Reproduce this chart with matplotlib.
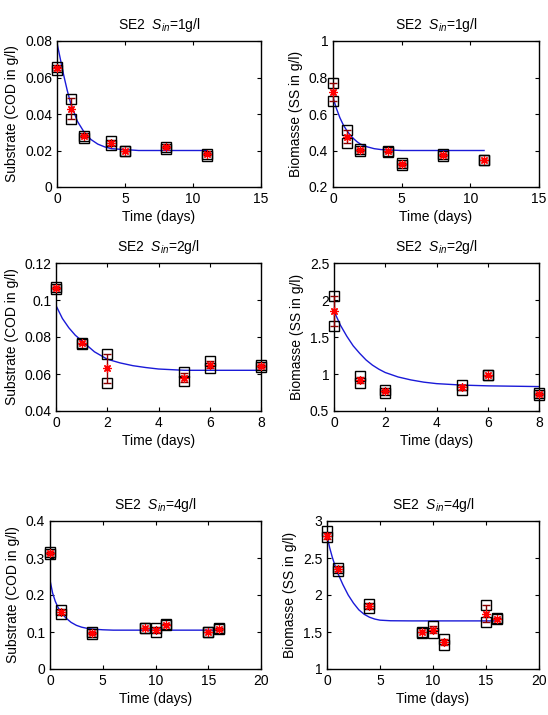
import matplotlib
matplotlib.use("Agg")
import matplotlib.pyplot as plt

plt.rcParams['font.family'] = ['Liberation Sans', 'DejaVu Sans']
plt.rcParams['mathtext.fontset'] = 'custom'
plt.rcParams['mathtext.rm'] = 'Liberation Sans'
plt.rcParams['mathtext.it'] = 'Liberation Sans:italic'
plt.rcParams['font.size'] = 10

# ---- Sin = 1 g/l ----
t1 = [0, 1, 2, 4, 5, 8, 11]
s1_a = [0.064, 0.048, 0.028, 0.025, 0.020, 0.022, 0.018]
s1_b = [0.066, 0.037, 0.027, 0.023, 0.020, 0.021, 0.017]
s1_mean = [0.065, 0.043, 0.028, 0.024, 0.020, 0.022, 0.018]
s1_fit_t = [0, 0.25, 0.5, 0.75, 1, 1.25, 1.5, 1.75, 2, 2.5, 3, 3.5, 4, 5, 6, 8, 11]
s1_fit = [0.079, 0.070, 0.061, 0.053, 0.046, 0.041, 0.036, 0.033, 0.030, 0.026, 0.0235, 0.022, 0.021, 0.0205, 0.020, 0.020, 0.020]

x1_a = [0.77, 0.51, 0.41, 0.40, 0.33, 0.38, 0.35]
x1_b = [0.67, 0.44, 0.40, 0.39, 0.32, 0.37, 0.35]
x1_mean = [0.72, 0.475, 0.405, 0.395, 0.325, 0.375, 0.35]
x1_fit_t = [0, 0.25, 0.5, 0.75, 1, 1.25, 1.5, 1.75, 2, 2.5, 3, 3.5, 4, 5, 6, 8, 11]
x1_fit = [0.69, 0.63, 0.58, 0.54, 0.51, 0.485, 0.465, 0.448, 0.435, 0.42, 0.41, 0.405, 0.403, 0.40, 0.40, 0.40, 0.40]

# ---- Sin = 2 g/l ----
t2 = [0, 1, 2, 5, 6, 8]
s2_a = [0.107, 0.077, 0.071, 0.061, 0.067, 0.065]
s2_b = [0.106, 0.076, 0.055, 0.056, 0.063, 0.064]
s2_mean = [0.1065, 0.0765, 0.063, 0.058, 0.065, 0.0645]
s2_fit_t = [0, 0.25, 0.5, 0.75, 1, 1.25, 1.5, 1.75, 2, 2.5, 3, 3.5, 4, 5, 6, 8]
s2_fit = [0.097, 0.090, 0.085, 0.081, 0.078, 0.075, 0.072, 0.070, 0.068, 0.066, 0.0645, 0.0635, 0.0627, 0.062, 0.062, 0.062]

x2_a = [2.05, 0.97, 0.78, 0.85, 0.99, 0.75]
x2_b = [1.65, 0.88, 0.75, 0.78, 0.98, 0.72]
x2_mean = [1.85, 0.92, 0.77, 0.82, 0.98, 0.73]
x2_fit_t = [0, 0.25, 0.5, 0.75, 1, 1.25, 1.5, 1.75, 2, 2.5, 3, 3.5, 4, 5, 6, 8]
x2_fit = [1.85, 1.66, 1.51, 1.38, 1.28, 1.19, 1.12, 1.065, 1.02, 0.96, 0.92, 0.89, 0.87, 0.85, 0.84, 0.83]

# ---- Sin = 4 g/l ----
t4 = [0, 1, 4, 9, 10, 11, 15, 16]
s4_a = [0.315, 0.160, 0.100, 0.112, 0.110, 0.122, 0.100, 0.112]
s4_b = [0.310, 0.150, 0.095, 0.110, 0.100, 0.118, 0.100, 0.107]
s4_mean = [0.313, 0.155, 0.097, 0.111, 0.105, 0.120, 0.100, 0.109]
s4_fit_t = [0, 0.25, 0.5, 0.75, 1, 1.5, 2, 2.5, 3, 3.5, 4, 5, 6, 8, 12, 16]
s4_fit = [0.240, 0.205, 0.183, 0.167, 0.155, 0.138, 0.126, 0.118, 0.113, 0.110, 0.108, 0.106, 0.105, 0.105, 0.105, 0.105]

x4_a = [2.86, 2.37, 1.88, 1.50, 1.58, 1.40, 1.87, 1.69]
x4_b = [2.78, 2.32, 1.82, 1.49, 1.48, 1.32, 1.63, 1.68]
x4_mean = [2.80, 2.35, 1.85, 1.50, 1.53, 1.37, 1.75, 1.68]
x4_fit_t = [0, 0.25, 0.5, 0.75, 1, 1.5, 2, 2.5, 3, 3.5, 4, 4.5, 5, 6, 8, 12, 16]
x4_fit = [2.80, 2.64, 2.51, 2.40, 2.30, 2.14, 2.00, 1.89, 1.80, 1.74, 1.70, 1.675, 1.66, 1.652, 1.65, 1.65, 1.65]

panels = [
    ("1g/l", "Substrate (COD in g/l)", t1, s1_a, s1_b, s1_mean, s1_fit_t, s1_fit, (0, 15), (0, 0.08), [0, 5, 10, 15], [0, 0.02, 0.04, 0.06, 0.08], ["0", "0.02", "0.04", "0.06", "0.08"]),
    ("1g/l", "Biomasse (SS in g/l)", t1, x1_a, x1_b, x1_mean, x1_fit_t, x1_fit, (0, 15), (0.2, 1), [0, 5, 10, 15], [0.2, 0.4, 0.6, 0.8, 1], ["0.2", "0.4", "0.6", "0.8", "1"]),
    ("2g/l", "Substrate (COD in g/l)", t2, s2_a, s2_b, s2_mean, s2_fit_t, s2_fit, (0, 8), (0.04, 0.12), [0, 2, 4, 6, 8], [0.04, 0.06, 0.08, 0.1, 0.12], ["0.04", "0.06", "0.08", "0.1", "0.12"]),
    ("2g/l", "Biomasse (SS in g/l)", t2, x2_a, x2_b, x2_mean, x2_fit_t, x2_fit, (0, 8), (0.5, 2.5), [0, 2, 4, 6, 8], [0.5, 1, 1.5, 2, 2.5], ["0.5", "1", "1.5", "2", "2.5"]),
    ("4g/l", "Substrate (COD in g/l)", t4, s4_a, s4_b, s4_mean, s4_fit_t, s4_fit, (0, 20), (0, 0.4), [0, 5, 10, 15, 20], [0, 0.1, 0.2, 0.3, 0.4], ["0", "0.1", "0.2", "0.3", "0.4"]),
    ("4g/l", "Biomasse (SS in g/l)", t4, x4_a, x4_b, x4_mean, x4_fit_t, x4_fit, (0, 20), (1, 3), [0, 5, 10, 15, 20], [1, 1.5, 2, 2.5, 3], ["1", "1.5", "2", "2.5", "3"]),
]

# axes boxes in pixels: left, top, right, bottom
W, H = 548, 715
boxes = [(57, 41, 261, 187), (333, 41, 539, 187),
         (56, 263, 261, 411), (334, 263, 539, 411),
         (50, 521, 261, 669), (327, 521, 539, 669)]

fig = plt.figure(figsize=(W / 100, H / 100), dpi=100)

for (sin, ylab, t, ra, rb, m, ft, fy, xl, yl, xt, yt, ytl), (l, tp, r, b) in zip(panels, boxes):
    ax = fig.add_axes([l / W, (H - b) / H, (r - l) / W, (b - tp) / H])
    ax.plot(ft, fy, color='#1a1ad8', lw=1.0, zorder=2)
    ax.plot(t, ra, 's', mfc='none', mec='black', ms=7, mew=1.0, zorder=3, clip_on=False)
    ax.plot(t, rb, 's', mfc='none', mec='black', ms=7, mew=1.0, zorder=3, clip_on=False)
    err = [abs(a - c) / 2 for a, c in zip(ra, rb)]
    ax.errorbar(t, m, yerr=err, fmt='none', ecolor='#8b0000', elinewidth=1.0, capsize=3, zorder=4, clip_on=False)
    ax.plot(t, m, ls='none', marker=(8, 2, 0), color='red', ms=6, mew=0.9, zorder=5, clip_on=False)
    ax.set_xlim(*xl)
    ax.set_ylim(*yl)
    ax.set_xticks(xt)
    ax.set_yticks(yt)
    ax.set_yticklabels(ytl)
    ax.tick_params(direction='in', top=True, right=True, length=3, labelsize=10)
    ax.set_xlabel("Time (days)", fontsize=10, labelpad=3)
    ax.set_ylabel(ylab, fontsize=10, labelpad=4)
    ax.set_title("SE2  $S_{in}$=" + sin, fontsize=10, pad=9)
    for sp in ax.spines.values():
        sp.set_linewidth(1.0)

fig.savefig("out.png", dpi=100)
